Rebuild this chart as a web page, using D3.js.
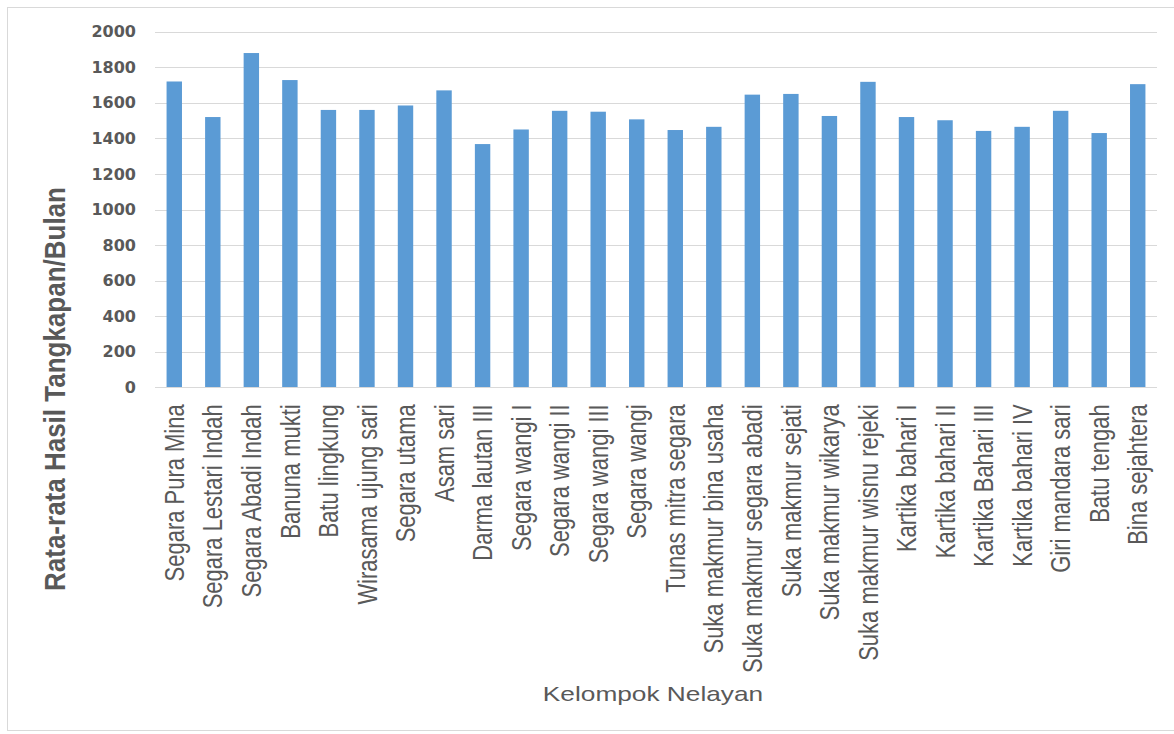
<!DOCTYPE html>
<html>
<head>
<meta charset="utf-8">
<script src="https://cdn.jsdelivr.net/npm/d3@7"></script>
<style>
  html, body { margin: 0; padding: 0; background: #ffffff; }
  svg { display: block; }
</style>
</head>
<body>
<svg id="chart" width="1174" height="734"></svg>
<script>
// Average monthly catch per fishing group
const categories = [
  "Segara Pura Mina", "Segara Lestari Indah", "Segara Abadi Indah", "Banuna mukti",
  "Batu lingkung", "Wirasama ujung sari", "Segara utama", "Asam sari",
  "Darma lautan III", "Segara wangi I", "Segara wangi II", "Segara wangi III",
  "Segara wangi", "Tunas mitra segara", "Suka makmur bina usaha",
  "Suka makmur segara abadi", "Suka makmur sejati", "Suka makmur wikarya",
  "Suka makmur wisnu rejeki", "Kartika bahari I", "Kartika bahari II",
  "Kartika Bahari III", "Kartika bahari IV", "Giri mandara sari",
  "Batu tengah", "Bina sejahtera"
];
const values = [
  1720, 1520, 1880, 1728, 1560, 1560, 1585, 1670,
  1368, 1450, 1555, 1550, 1507, 1447, 1465, 1646,
  1650, 1526, 1718, 1520, 1502, 1442, 1465, 1555,
  1430, 1705
];
const yTicks = [0, 200, 400, 600, 800, 1000, 1200, 1400, 1600, 1800, 2000];
const yTitle = "Rata-rata Hasil Tangkapan/Bulan";
const xTitle = "Kelompok Nelayan";

const svg = d3.select("#chart");
const W = 1174, H = 734;
const plot = { left: 155, right: 1157, top: 31.7, bottom: 387.3 };
const gray = "#595959";
const gridColor = "#d9d9d9";
const barColor = "#5b9bd5";

// outer chart border
svg.append("rect")
  .attr("x", 7.5).attr("y", 7.5)
  .attr("width", W + 10).attr("height", 723)
  .attr("fill", "none").attr("stroke", gridColor).attr("stroke-width", 1);

const x = d3.scaleBand()
  .domain(categories)
  .range([plot.left, plot.right])
  .paddingInner(0.6)
  .paddingOuter(0.3);

const y = d3.scaleLinear()
  .domain([0, 2000])
  .range([plot.bottom, plot.top]);

// horizontal gridlines
svg.append("g")
  .selectAll("line")
  .data(yTicks.filter(t => t > 0))
  .join("line")
  .attr("x1", plot.left).attr("x2", plot.right)
  .attr("y1", d => Math.round(y(d)) + 0.5)
  .attr("y2", d => Math.round(y(d)) + 0.5)
  .attr("stroke", gridColor).attr("stroke-width", 1);

// y axis labels
const yAxis = svg.append("g")
  .attr("transform", `translate(${plot.left},0)`)
  .call(d3.axisLeft(y).tickValues(yTicks).tickSize(0).tickPadding(19).tickFormat(d3.format("d")));
yAxis.select(".domain").remove();
yAxis.selectAll("text")
  .attr("fill", gray)
  .style("font-family", "'DejaVu Sans', sans-serif")
  .style("font-weight", "bold")
  .style("font-size", "16px");

// bars
svg.append("g")
  .selectAll("rect")
  .data(categories.map((c, i) => ({ c, v: values[i] })))
  .join("rect")
  .attr("x", d => x(d.c))
  .attr("y", d => y(d.v))
  .attr("width", x.bandwidth())
  .attr("height", d => y(0) - y(d.v))
  .attr("fill", barColor);

// baseline
svg.append("line")
  .attr("x1", plot.left).attr("x2", plot.right)
  .attr("y1", Math.round(y(0)) + 0.5).attr("y2", Math.round(y(0)) + 0.5)
  .attr("stroke", gridColor).attr("stroke-width", 1);

// category labels, rotated
const xAxis = svg.append("g")
  .attr("transform", `translate(0,${plot.bottom})`)
  .call(d3.axisBottom(x).tickSize(0));
xAxis.select(".domain").remove();
xAxis.selectAll("text")
  .attr("fill", gray)
  .attr("text-anchor", "end")
  .attr("x", -17)
  .attr("y", 0)
  .attr("dy", "0.36em")
  .attr("transform", "scale(1.22,1) rotate(-90)")
  .style("font-family", "'Liberation Sans', Arial, sans-serif")
  .style("font-size", "22px");

// y axis title
svg.append("text")
  .attr("transform", "translate(55,389) scale(1.12,1) rotate(-90)")
  .attr("text-anchor", "middle")
  .attr("dy", "0.36em")
  .attr("fill", gray)
  .style("font-family", "'Liberation Sans', Arial, sans-serif")
  .style("font-weight", "bold")
  .style("font-size", "26px")
  .text(yTitle);

// x axis title
svg.append("text")
  .attr("transform", "translate(653,693) scale(1.25,1)")
  .attr("text-anchor", "middle")
  .attr("dy", "0.36em")
  .attr("fill", gray)
  .style("font-family", "'Liberation Sans', Arial, sans-serif")
  .style("font-size", "21px")
  .text(xTitle);
</script>
</body>
</html>
